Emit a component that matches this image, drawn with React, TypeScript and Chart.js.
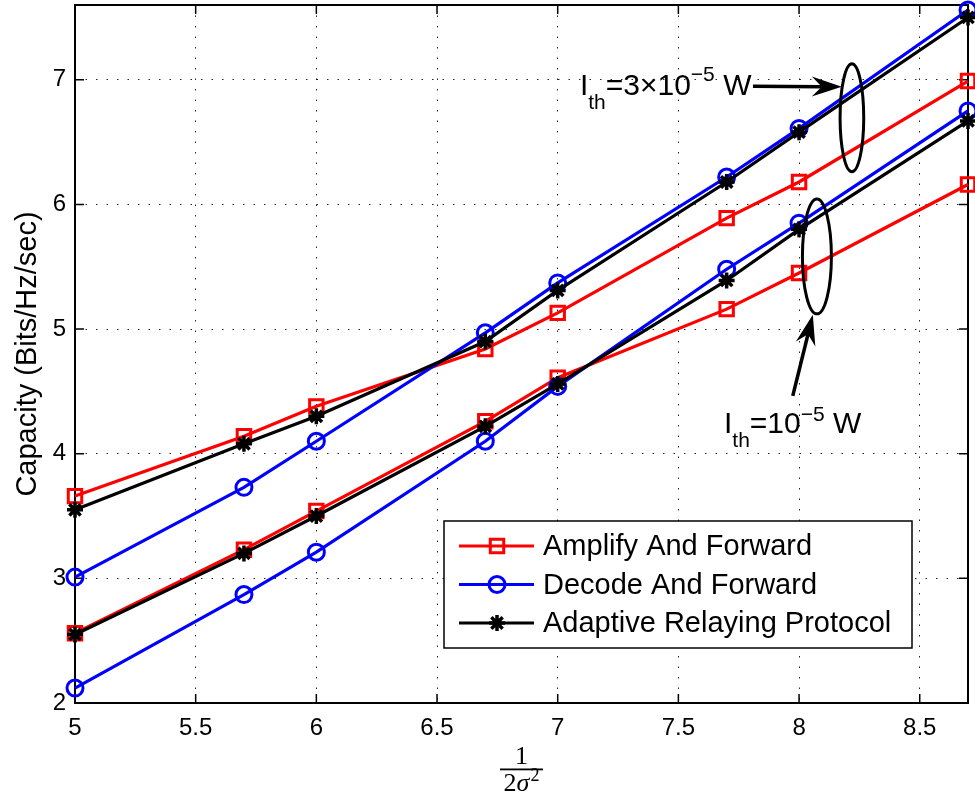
import React, { useEffect, useRef } from "react";
import { Chart, registerables } from "chart.js";

Chart.register(...registerables);

// ---------------- data ----------------
const xValues = [5, 5.7, 6, 6.7, 7, 7.7, 8, 8.7];

// I_th = 3x10^-5 W
const afHigh = [3.66, 4.14, 4.38, 4.84, 5.13, 5.89, 6.18, 6.99];
const dfHigh = [3.01, 3.73, 4.1, 4.97, 5.37, 6.22, 6.61, 7.56];
const arpHigh = [3.55, 4.08, 4.3, 4.9, 5.31, 6.18, 6.58, 7.5];

// I_th = 10^-5 W
const afLow = [2.56, 3.23, 3.54, 4.26, 4.61, 5.16, 5.45, 6.16];
const dfLow = [2.12, 2.87, 3.21, 4.1, 4.54, 5.48, 5.85, 6.75];
const arpLow = [2.55, 3.2, 3.5, 4.22, 4.56, 5.39, 5.8, 6.67];

const xTicks = [5, 5.5, 6, 6.5, 7, 7.5, 8, 8.5];
const yTicks = [2, 3, 4, 5, 6, 7];

const seriesNames = ["Amplify And Forward", "Decode And Forward", "Adaptive Relaying Protocol"];
const seriesColors = ["#ff0000", "#0000ff", "#000000"];
const yTitle = "Capacity (Bits/Hz/sec)";

const SANS = '"Liberation Sans", Arial, Helvetica, sans-serif';
const SERIF = '"Liberation Serif", "DejaVu Serif", serif';

type Marker = "rect" | "circle" | "star";
const seriesMarkers: Marker[] = ["rect", "circle", "star"];
const markerRadius = [9.5, 8, 8];
const markerWidth = [3, 3, 3.5];

function drawMarker(ctx: CanvasRenderingContext2D, kind: Marker, x: number, y: number, r: number, color: string, lw: number) {
  ctx.save();
  ctx.strokeStyle = color;
  ctx.lineWidth = lw;
  ctx.beginPath();
  if (kind === "rect") {
    const s = r * Math.SQRT1_2;
    ctx.rect(x - s, y - s, 2 * s, 2 * s);
  } else if (kind === "circle") {
    ctx.arc(x, y, r, 0, Math.PI * 2);
  } else {
    for (let k = 0; k < 4; k++) {
      const a = (k * Math.PI) / 4;
      ctx.moveTo(x - r * Math.cos(a), y - r * Math.sin(a));
      ctx.lineTo(x + r * Math.cos(a), y + r * Math.sin(a));
    }
  }
  ctx.stroke();
  ctx.restore();
}

function drawRich(
  ctx: CanvasRenderingContext2D,
  x: number,
  y: number,
  parts: { t: string; size: number; dy: number }[]
) {
  let cx = x;
  ctx.save();
  ctx.fillStyle = "#000";
  ctx.textBaseline = "alphabetic";
  ctx.textAlign = "left";
  for (const p of parts) {
    ctx.font = `${p.size}px ${SANS}`;
    ctx.fillText(p.t, cx, y + p.dy);
    cx += ctx.measureText(p.t).width;
  }
  ctx.restore();
}

function drawArrow(ctx: CanvasRenderingContext2D, x1: number, y1: number, x2: number, y2: number) {
  const ang = Math.atan2(y2 - y1, x2 - x1);
  const headLen = 30;
  const headW = 10;
  const notch = 20;
  const ux = Math.cos(ang), uy = Math.sin(ang);
  const px = -uy, py = ux;
  ctx.save();
  ctx.strokeStyle = "#000";
  ctx.fillStyle = "#000";
  ctx.lineWidth = 3.5;
  ctx.beginPath();
  ctx.moveTo(x1, y1);
  ctx.lineTo(x2 - ux * notch, y2 - uy * notch);
  ctx.stroke();
  ctx.beginPath();
  ctx.moveTo(x2, y2);
  ctx.lineTo(x2 - ux * headLen + px * headW, y2 - uy * headLen + py * headW);
  ctx.lineTo(x2 - ux * notch, y2 - uy * notch);
  ctx.lineTo(x2 - ux * headLen - px * headW, y2 - uy * headLen - py * headW);
  ctx.closePath();
  ctx.fill();
  ctx.restore();
}

const decorPlugin = {
  id: "decor",
  beforeDatasetsDraw(chart: any) {
    const { ctx, chartArea: a, scales } = chart;
    const xs = scales.x, ys = scales.y;
    ctx.save();
    ctx.strokeStyle = "#000";
    ctx.lineWidth = 1.5;
    const tl = 9;
    ctx.beginPath();
    for (const v of xTicks) {
      const px = xs.getPixelForValue(v);
      ctx.moveTo(px, a.bottom);
      ctx.lineTo(px, a.bottom - tl);
      ctx.moveTo(px, a.top);
      ctx.lineTo(px, a.top + tl);
    }
    for (const v of yTicks) {
      const py = ys.getPixelForValue(v);
      ctx.moveTo(a.left, py);
      ctx.lineTo(a.left + tl, py);
      ctx.moveTo(a.right, py);
      ctx.lineTo(a.right - tl, py);
    }
    ctx.stroke();
    ctx.lineWidth = 2;
    ctx.strokeRect(a.left, a.top, a.right - a.left, a.bottom - a.top);
    ctx.restore();
  },
  afterDraw(chart: any) {
    const { ctx, chartArea: a, scales } = chart;
    const xs = scales.x, ys = scales.y;
    const X = (v: number) => xs.getPixelForValue(v);
    const Y = (v: number) => ys.getPixelForValue(v);
    const sx = (d: number) => Math.abs(X(xs.min + d) - X(xs.min));
    const sy = (d: number) => Math.abs(Y(ys.min + d) - Y(ys.min));

    // y-axis title
    ctx.save();
    ctx.translate(28, (a.top + a.bottom) / 2);
    ctx.rotate(-Math.PI / 2);
    ctx.font = `29px ${SANS}`;
    ctx.fillStyle = "#000";
    ctx.textAlign = "center";
    ctx.textBaseline = "middle";
    ctx.fillText(yTitle, 0, 0);
    ctx.restore();

    // x-axis title: 1 / (2 sigma^2)
    ctx.save();
    const cx = (a.left + a.right) / 2;
    ctx.fillStyle = "#000";
    ctx.textAlign = "center";
    ctx.textBaseline = "alphabetic";
    ctx.font = `26px ${SERIF}`;
    ctx.fillText("1", cx, a.bottom + 61);
    ctx.fillRect(cx - 21.5, a.bottom + 65.5, 43, 1.8);
    ctx.textAlign = "left";
    ctx.font = `26px ${SERIF}`;
    const w2 = ctx.measureText("2").width;
    ctx.font = `italic 26px ${SERIF}`;
    const ws = ctx.measureText("σ").width;
    ctx.font = `18px ${SERIF}`;
    const wsup = ctx.measureText("2").width;
    const total = w2 + ws + 1 + wsup;
    let bx = cx - total / 2;
    const by = a.bottom + 88;
    ctx.font = `26px ${SERIF}`;
    ctx.fillText("2", bx, by);
    bx += w2;
    ctx.font = `italic 26px ${SERIF}`;
    ctx.fillText("σ", bx, by);
    bx += ws + 1;
    ctx.font = `18px ${SERIF}`;
    ctx.fillText("2", bx, by - 10);
    ctx.restore();

    // ellipses
    ctx.save();
    ctx.strokeStyle = "#000";
    ctx.lineWidth = 3;
    ctx.beginPath();
    ctx.ellipse(X(8.219), Y(6.695), sx(0.049), sy(0.433), 0, 0, Math.PI * 2);
    ctx.stroke();
    ctx.beginPath();
    ctx.ellipse(X(8.074), Y(5.583), sx(0.06), sy(0.461), 0, 0, Math.PI * 2);
    ctx.stroke();
    ctx.restore();

    // arrows
    drawArrow(ctx, X(7.809), Y(6.948), X(8.177), Y(6.944));
    drawArrow(ctx, X(7.974), Y(4.464), X(8.057), Y(5.114));

    // annotation texts
    drawRich(ctx, X(7.092), Y(6.88), [
      { t: "I", size: 30, dy: 0 },
      { t: "th", size: 21, dy: 14 },
      { t: "=3×10", size: 30, dy: 0 },
      { t: "−5", size: 21, dy: -14 },
      { t: " W", size: 30, dy: 0 },
    ]);
    drawRich(ctx, X(7.689), Y(4.167), [
      { t: "I", size: 30, dy: 0 },
      { t: "th", size: 21, dy: 14 },
      { t: "=10", size: 30, dy: 0 },
      { t: "−5", size: 21, dy: -12 },
      { t: " W", size: 30, dy: 0 },
    ]);

    // legend
    const lx = 444, ly = 521, lw = 468, lh = 127;
    ctx.save();
    ctx.fillStyle = "#fff";
    ctx.fillRect(lx, ly, lw, lh);
    ctx.strokeStyle = "#000";
    ctx.lineWidth = 1.5;
    ctx.strokeRect(lx, ly, lw, lh);
    for (let i = 0; i < seriesNames.length; i++) {
      const ry = ly + 25 + i * 38.5;
      ctx.strokeStyle = seriesColors[i];
      ctx.lineWidth = 3;
      ctx.beginPath();
      ctx.moveTo(lx + 15, ry);
      ctx.lineTo(lx + 90, ry);
      ctx.stroke();
      drawMarker(ctx, seriesMarkers[i], lx + 53, ry, markerRadius[i], seriesColors[i], markerWidth[i]);
      ctx.fillStyle = "#000";
      ctx.font = `29px ${SANS}`;
      ctx.textAlign = "left";
      ctx.textBaseline = "middle";
      ctx.fillText(seriesNames[i], lx + 99, ry + 1);
    }
    ctx.restore();
  },
};

function makeSet(label: string, values: number[], idx: number, order: number) {
  return {
    label,
    data: xValues.map((x, i) => ({ x, y: values[i] })),
    borderColor: seriesColors[idx],
    backgroundColor: "transparent",
    borderWidth: 3.2,
    pointStyle: seriesMarkers[idx],
    pointRadius: markerRadius[idx],
    pointHoverRadius: markerRadius[idx],
    pointBorderWidth: markerWidth[idx],
    pointBorderColor: seriesColors[idx],
    pointBackgroundColor: "transparent",
    tension: 0,
    clip: false as any,
    order,
  };
}

export default function App() {
  const ref = useRef<HTMLCanvasElement | null>(null);
  useEffect(() => {
    if (!ref.current) return;
    const tickFont = { family: SANS, size: 24 };
    const chart = new Chart(ref.current, {
      type: "line",
      data: {
        datasets: [
          makeSet(seriesNames[0], afHigh, 0, 3),
          makeSet(seriesNames[1], dfHigh, 1, 2),
          makeSet(seriesNames[2], arpHigh, 2, 1),
          makeSet(seriesNames[0], afLow, 0, 3),
          makeSet(seriesNames[1], dfLow, 1, 2),
          makeSet(seriesNames[2], arpLow, 2, 1),
        ] as any,
      },
      options: {
        animation: false,
        responsive: false,
        maintainAspectRatio: false,
        devicePixelRatio: 1,
        events: [],
        layout: { autoPadding: false, padding: { top: 5, right: 7, left: 0, bottom: 0 } },
        plugins: { legend: { display: false }, tooltip: { enabled: false } },
        scales: {
          x: {
            type: "linear",
            min: 5,
            max: 8.7,
            afterBuildTicks: (s: any) => {
              s.ticks = xTicks.map((v) => ({ value: v }));
            },
            afterFit: (s: any) => {
              s.height = 100;
              s.paddingLeft = 0;
              s.paddingRight = 0;
            },
            grid: { color: "rgba(0,0,0,0.85)", lineWidth: 1, drawTicks: false },
            border: { display: false, dash: [1.5, 9] },
            ticks: {
              font: tickFont,
              color: "#000",
              padding: 11,
              maxRotation: 0,
              autoSkip: false,
              callback: (v: any) => String(v),
            },
          },
          y: {
            type: "linear",
            min: 2,
            max: 7.6,
            afterBuildTicks: (s: any) => {
              s.ticks = yTicks.map((v) => ({ value: v }));
            },
            afterFit: (s: any) => {
              s.width = 75;
              s.paddingTop = 0;
              s.paddingBottom = 0;
            },
            grid: { color: "rgba(0,0,0,0.85)", lineWidth: 1, drawTicks: false },
            border: { display: false, dash: [1.5, 9] },
            ticks: {
              font: tickFont,
              color: "#000",
              padding: 9,
              autoSkip: false,
              callback: (v: any) => String(v),
            },
          },
        },
      } as any,
      plugins: [decorPlugin],
    });
    return () => chart.destroy();
  }, []);
  return (
    <div style={{ position: "absolute", left: 0, top: 0, width: 975, height: 803, background: "#fff" }}>
      <canvas ref={ref} width={975} height={803} style={{ display: "block" }} />
    </div>
  );
}
